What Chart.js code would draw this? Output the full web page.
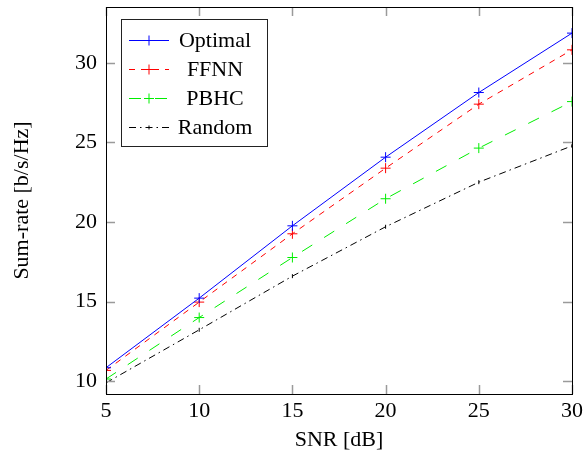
<!DOCTYPE html>
<html>
<head>
<meta charset="utf-8">
<script src="https://cdn.jsdelivr.net/npm/chart.js@4.4.1/dist/chart.umd.min.js"></script>
<style>
  html, body { margin: 0; padding: 0; background: #fff; }
</style>
</head>
<body>
<canvas id="chart" width="586" height="461"></canvas>
<script>
const snr = [5, 10, 15, 20, 25, 30];
const optimal = [10.85, 15.22, 19.76, 24.07, 28.13, 31.86];
const ffnn = [10.68, 14.97, 19.26, 23.38, 27.4, 30.81];
const pbhc = [10.14, 14.0, 17.77, 21.46, 24.64, 27.56];
const random = [9.9, 13.23, 16.6, 19.7, 22.5, 24.78];
const xTicks = [5, 10, 15, 20, 25, 30];
const yTicks = [10, 15, 20, 25, 30];

const FONT = "'Liberation Serif', 'Times New Roman', serif";

function pts(ys) {
  return snr.map((x, i) => ({ x: x, y: ys[i] }));
}

function series(label, ys, color, dash, style) {
  return {
    label: label,
    data: pts(ys),
    borderColor: color,
    backgroundColor: color,
    borderWidth: 1,
    borderDash: dash,
    pointStyle: style || 'cross',
    pointRadius: style ? 2 : 5,
    pointRotation: style ? 90 : 0,
    pointBorderWidth: 1,
    pointBorderColor: color,
    tension: 0,
    fill: false
  };
}

// frame + inward ticks on all four sides (pgfplots look)
const framePlugin = {
  id: 'frame',
  afterDatasetsDraw(chart) {
    const { ctx, chartArea: a, scales } = chart;
    ctx.save();
    ctx.strokeStyle = '#9a9a9a';
    ctx.lineWidth = 1.5;
    const len = 9;
    scales.x.ticks.forEach(t => {
      const px = Math.round(scales.x.getPixelForValue(t.value)) + 0.5;
      ctx.beginPath();
      ctx.moveTo(px, a.bottom); ctx.lineTo(px, a.bottom - len);
      ctx.moveTo(px, a.top); ctx.lineTo(px, a.top + len);
      ctx.stroke();
    });
    scales.y.ticks.forEach(t => {
      const py = Math.round(scales.y.getPixelForValue(t.value)) + 0.5;
      ctx.beginPath();
      ctx.moveTo(a.left, py); ctx.lineTo(a.left + len, py);
      ctx.moveTo(a.right, py); ctx.lineTo(a.right - len, py);
      ctx.stroke();
    });
    ctx.strokeStyle = '#000';
    ctx.lineWidth = 1;
    ctx.strokeRect(Math.round(a.left) + 0.5, Math.round(a.top) + 0.5,
      Math.round(a.right - a.left), Math.round(a.bottom - a.top));
    ctx.restore();
  }
};

// boxed legend inside the plot, text centred like pgfplots
const legendPlugin = {
  id: 'boxLegend',
  afterDraw(chart) {
    const { ctx } = chart;
    const x0 = 121, y0 = 19, w = 146, h = 127;
    ctx.save();
    ctx.fillStyle = '#fff';
    ctx.fillRect(x0, y0, w, h);
    ctx.strokeStyle = '#222';
    ctx.lineWidth = 1;
    ctx.strokeRect(x0 + 0.5, y0 + 0.5, w, h);
    chart.data.datasets.forEach((ds, i) => {
      const y = 40 + i * 29;
      ctx.strokeStyle = ds.borderColor;
      ctx.lineWidth = 1;
      ctx.setLineDash(ds.borderDash || []);
      ctx.beginPath();
      ctx.moveTo(129, y + 0.5); ctx.lineTo(169, y + 0.5);
      ctx.stroke();
      ctx.setLineDash([]);
      Chart.helpers.drawPoint(ctx, {
        pointStyle: ds.pointStyle, radius: ds.pointRadius, rotation: ds.pointRotation,
        borderWidth: 1
      }, 149, y + 0.5);
      ctx.fillStyle = '#000';
      ctx.font = '22px ' + FONT;
      ctx.textAlign = 'center';
      ctx.textBaseline = 'middle';
      ctx.fillText(ds.label, 215, y + 1);
    });
    ctx.restore();
  }
};

new Chart(document.getElementById('chart'), {
  type: 'line',
  data: {
    datasets: [
      series('Optimal', optimal, '#0000ff', []),
      series('FFNN', ffnn, '#ff0000', [6, 6]),
      series('PBHC', pbhc, '#00ee00', [12, 14]),
      series('Random', random, '#000000', [7, 4, 1.5, 4], 'line')
    ]
  },
  options: {
    responsive: false,
    animation: false,
    layout: { padding: { top: 7, right: 14, left: 0, bottom: 0 } },
    plugins: { legend: { display: false }, tooltip: { enabled: false } },
    scales: {
      x: {
        type: 'linear',
        min: 5,
        max: 30,
        afterBuildTicks: s => { s.ticks = xTicks.map(v => ({ value: v })); },
        afterFit: s => { s.height = 67; s.paddingLeft = 0; s.paddingRight = 0; },
        grid: { display: false, drawTicks: false },
        border: { display: false },
        ticks: { color: '#000', padding: 4, font: { family: FONT, size: 22 } },
        title: {
          display: true, text: 'SNR [dB]', color: '#000',
          padding: { top: 0, bottom: 8 }, font: { family: FONT, size: 22 }
        }
      },
      y: {
        type: 'linear',
        min: 9.2,
        max: 33.5,
        afterBuildTicks: s => { s.ticks = yTicks.map(v => ({ value: v })); },
        afterFit: s => { s.width = 106; s.paddingTop = 0; s.paddingBottom = 0; },
        grid: { display: false, drawTicks: false },
        border: { display: false },
        ticks: { color: '#000', padding: 9, font: { family: FONT, size: 22 } },
        title: {
          display: true, text: 'Sum-rate [b/s/Hz]', color: '#000',
          padding: { top: 9, bottom: 0 }, font: { family: FONT, size: 22 }
        }
      }
    }
  },
  plugins: [framePlugin, legendPlugin]
});
</script>
</body>
</html>
